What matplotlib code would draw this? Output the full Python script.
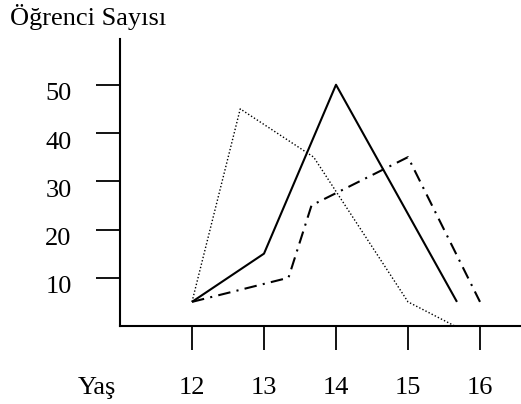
import matplotlib.pyplot as plt
import matplotlib.transforms as mtransforms

# Yaş - öğrenci sayısı grafiği
yas = [12, 13, 14, 15, 16]
y_ticks = [10, 20, 30, 40, 50]

# düz çizgi
duz_x = [12, 13, 14, 15.68]
duz_y = [5, 15, 50, 5]

# noktalı çizgi
nokta_x = [12, 12.67, 13.69, 15, 15.65]
nokta_y = [5, 45, 35, 5, 0]

# kesik-noktalı çizgi
kesik_x = [12, 13.34, 13.66, 15, 16]
kesik_y = [5, 10, 25, 35, 5]

plt.rcParams['font.family'] = ['Liberation Serif', 'DejaVu Serif']

fig = plt.figure(figsize=(5.21, 4.04), dpi=100)
W, H = 521, 404
ax = fig.add_axes([120 / W, 1 - 326 / H, 401 / W, (326 - 39) / H])

ax.plot(duz_x, duz_y, color='black', linewidth=1.5, solid_capstyle='butt')
ax.plot(nokta_x, nokta_y, color='black', linewidth=1.0, linestyle=(0, (1, 1.5)))
ax.plot(kesik_x, kesik_y, color='black', linewidth=1.5, linestyle=(0, (6, 3, 1, 3)))

ax.set_xlim(11, 11 + 401 / 72)
ax.set_ylim(0, (326 - 39) / 4.825)

ax.spines['top'].set_visible(False)
ax.spines['right'].set_visible(False)
ax.spines['left'].set_linewidth(1.5)
ax.spines['bottom'].set_linewidth(1.5)

ax.set_xticks(yas)
ax.set_xticklabels([str(v) for v in yas])
ax.set_yticks(y_ticks)
ax.set_yticklabels([str(v) for v in y_ticks])
ax.tick_params(axis='both', direction='out', length=17.3, width=1.3, labelsize=19)
ax.tick_params(axis='x', pad=31.7)
ax.tick_params(axis='y', pad=17.5)

# etiketleri taban çizgisine göre hizala
for t in ax.get_xticklabels():
    t.set_va('baseline')
kaydir = mtransforms.ScaledTranslation(0, -0.157, fig.dpi_scale_trans)
for t in ax.get_yticklabels():
    t.set_va('baseline')
    t.set_transform(t.get_transform() + kaydir)

fig.text(10 / W, 1 - 24.5 / H, 'Öğrenci Sayısı', fontsize=19, ha='left', va='baseline')
fig.text(97 / W, 1 - 394 / H, 'Yaş', fontsize=19, ha='center', va='baseline')

fig.savefig('out.png', dpi=100)
